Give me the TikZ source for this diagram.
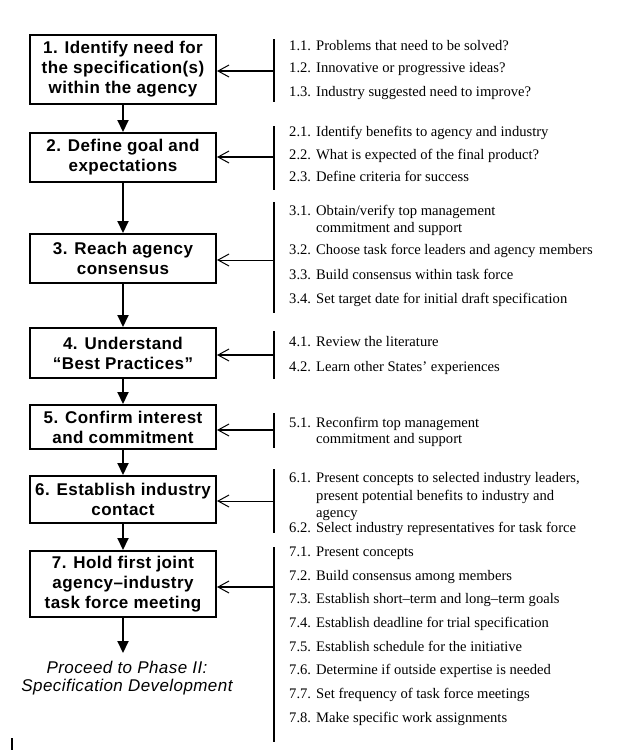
\documentclass[tikz,border=0pt]{standalone}
\usepackage{fontspec}
\setmainfont{Liberation Serif}
\newfontfamily\boxfont[LetterSpace=2.5]{Liberation Sans}
\newfontfamily\itemfam{Liberation Serif}
\usetikzlibrary{arrows.meta}
\newcommand\nm[1]{\makebox[27pt][l]{#1}}
\begin{document}
\begin{tikzpicture}[x=1pt,y=-1pt,
 stepbox/.style={draw, line width=2pt, minimum width=186pt, inner sep=0pt, align=center, font=\boxfont\bfseries\fontsize{17}{20}\selectfont},
 endtext/.style={inner sep=0pt, align=center, font=\boxfont\itshape\fontsize{17}{18}\selectfont},
 item/.style={anchor=mid west, inner sep=0pt, yshift=-2.5pt, font=\itemfam\fontsize{14.6}{17}\selectfont},
 flow/.style={line width=2pt, -{Triangle[length=12pt,width=11pt]}},
 feed/.style={line width=2pt, -{Straight Barb[length=11pt,width=12pt,line width=1pt]}},
 feedthin/.style={line width=1pt, -{Straight Barb[length=11pt,width=12pt,line width=1pt]}},
 bar/.style={line width=2pt}]
\useasboundingbox (0,0) rectangle (618,750);

% steps
\node[stepbox, minimum height=69pt] (n1) at (123,69.5) {1. Identify need for\\the specification(s)\\within the agency};
\node[stepbox, minimum height=49pt] (n2) at (123,157.5) {2. Define goal and\\expectations};
\node[stepbox, minimum height=49pt] (n3) at (123,258.5) {3. Reach agency\\consensus};
\node[stepbox, minimum height=50pt] (n4) at (123,353) {4. Understand\\“Best Practices”};
\node[stepbox, minimum height=44pt] (n5) at (123,427) {5. Confirm interest\\and commitment};
\node[stepbox, minimum height=47pt] (n6) at (123,499.5) {6. Establish industry\\contact};
\node[stepbox, minimum height=66pt] (n7) at (123,584) {7. Hold first joint\\agency–industry\\task force meeting};
\node[endtext] (proceed) at (127,678) {Proceed to Phase II:\\Specification Development};
\coordinate (pend) at (123,653);

\draw[flow] (n1) -- (n2);
\draw[flow] (n2) -- (n3);
\draw[flow] (n3) -- (n4);
\draw[flow] (n4) -- (n5);
\draw[flow] (n5) -- (n6);
\draw[flow] (n6) -- (n7);
\draw[flow] (n7) -- (pend);

% bars
\coordinate (b1t) at (274,39);  \coordinate (b1b) at (274,102);
\coordinate (b2t) at (274,126); \coordinate (b2b) at (274,190);
\coordinate (b3t) at (274,202); \coordinate (b3b) at (274,313);
\coordinate (b4t) at (274,331); \coordinate (b4b) at (274,379);
\coordinate (b5t) at (274,413); \coordinate (b5b) at (274,448);
\coordinate (b6t) at (274,469); \coordinate (b6b) at (274,533);
\coordinate (b7t) at (274,547); \coordinate (b7b) at (274,742);
\foreach \i in {1,...,7} {\draw[bar] (b\i t) -- (b\i b);}

\coordinate (f1) at (274,71);
\coordinate (f2) at (274,157);
\coordinate (f3) at (274,260);
\coordinate (f4) at (274,355);
\coordinate (f5) at (274,430);
\coordinate (f6) at (274,501);
\coordinate (f7) at (274,587);
\draw[feed] (f1) -- (n1.east |- f1);
\draw[feed] (f2) -- (n2.east |- f2);
\draw[feedthin] (f3) -- (n3.east |- f3);
\draw[feed] (f4) -- (n4.east |- f4);
\draw[feed] (f5) -- (n5.east |- f5);
\draw[feedthin] (f6) -- (n6.east |- f6);
\draw[feed] (f7) -- (n7.east |- f7);

% items
\node[item] (i11) at (289,46) {\nm{1.1.}Problems that need to be solved?};
\node[item] (i12) at (289,68) {\nm{1.2.}Innovative or progressive ideas?};
\node[item] (i13) at (289,92) {\nm{1.3.}Industry suggested need to improve?};
\node[item] (i21) at (289,132) {\nm{2.1.}Identify benefits to agency and industry};
\node[item] (i22) at (289,155) {\nm{2.2.}What is expected of the final product?};
\node[item] (i23) at (289,177) {\nm{2.3.}Define criteria for success};
\node[item] (i31) at (289,211) {\nm{3.1.}Obtain/verify top management};
\node[item] (i31b) at (316,228) {commitment and support};
\node[item] (i32) at (289,250) {\nm{3.2.}Choose task force leaders and agency members};
\node[item] (i33) at (289,275) {\nm{3.3.}Build consensus within task force};
\node[item] (i34) at (289,299) {\nm{3.4.}Set target date for initial draft specification};
\node[item] (i41) at (289,342) {\nm{4.1.}Review the literature};
\node[item] (i42) at (289,367) {\nm{4.2.}Learn other States’ experiences};
\node[item] (i51) at (289,423) {\nm{5.1.}Reconfirm top management};
\node[item] (i51b) at (316,439) {commitment and support};
\node[item] (i61) at (289,478) {\nm{6.1.}Present concepts to selected industry leaders,};
\node[item] (i61b) at (316,496) {present potential benefits to industry and};
\node[item] (i61c) at (316,513) {agency};
\node[item] (i62) at (289,528) {\nm{6.2.}Select industry representatives for task force};
\node[item] (i71) at (289,552) {\nm{7.1.}Present concepts};
\node[item] (i72) at (289,576) {\nm{7.2.}Build consensus among members};
\node[item] (i73) at (289,599) {\nm{7.3.}Establish short–term and long–term goals};
\node[item] (i74) at (289,623) {\nm{7.4.}Establish deadline for trial specification};
\node[item] (i75) at (289,647) {\nm{7.5.}Establish schedule for the initiative};
\node[item] (i76) at (289,670) {\nm{7.6.}Determine if outside expertise is needed};
\node[item] (i77) at (289,694) {\nm{7.7.}Set frequency of task force meetings};
\node[item] (i78) at (289,718) {\nm{7.8.}Make specific work assignments};

% stray mark bottom left
\coordinate (m1) at (11.5,738); \coordinate (m2) at (11.5,750);
\draw[line width=2pt] (m1) -- (m2);
\end{tikzpicture}
\end{document}
